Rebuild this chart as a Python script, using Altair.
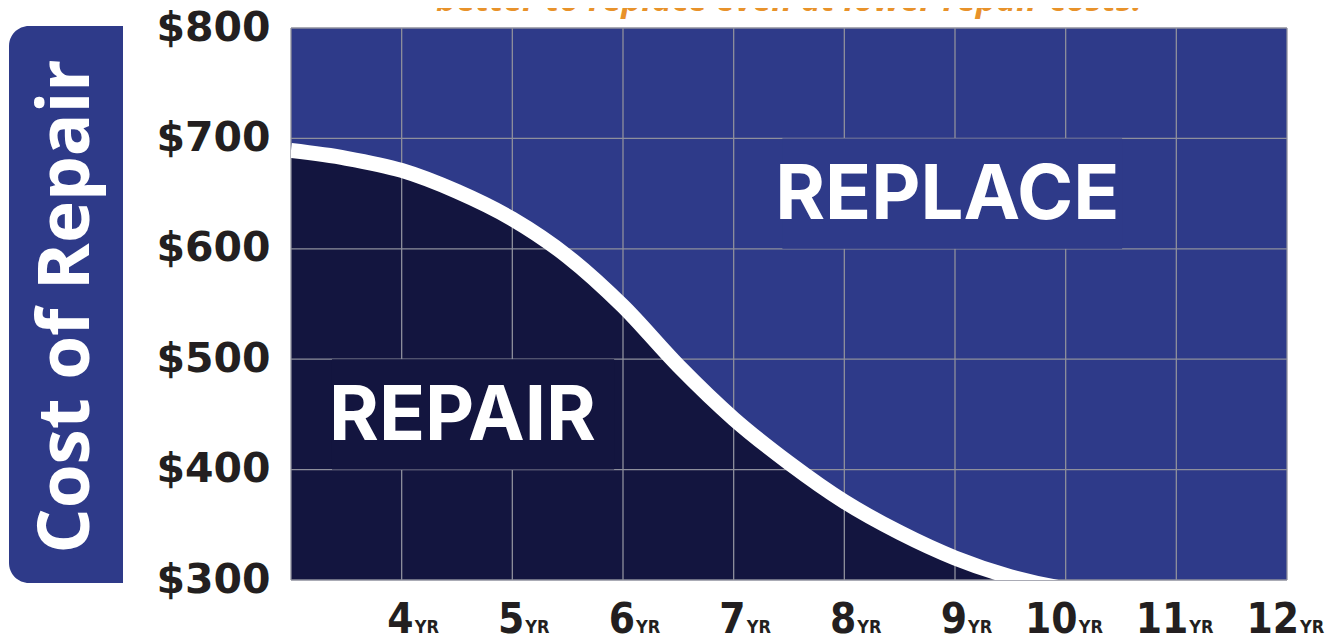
import altair as alt
import pandas as pd

# ---- data ----
curve_years = [3.0, 3.5, 4.0, 4.5, 5.0, 5.5, 6.0, 6.5, 7.0, 7.5, 8.0, 8.5, 9.0, 9.5, 10.0, 10.5]
curve_cost = [689, 682, 671, 652, 627, 593, 548, 494, 446, 406, 371, 343, 320, 303, 292, 286]

grid_years = [3, 4, 5, 6, 7, 8, 9, 10, 11, 12]
grid_costs = [300, 400, 500, 600, 700, 800]

tick_years = [4, 5, 6, 7, 8, 9, 10, 11, 12]
tick_numbers = ["4", "5", "6", "7", "8", "9", "10", "11", "12"]
tick_unit = "YR"

zone_names = ["REPAIR", "REPLACE"]
zone_x = [4.55, 8.93]
zone_y = [448, 648]
zone_box_x1 = [3.37, 7.44]
zone_box_x2 = [5.92, 10.51]
zone_box_y1 = [400, 600]
zone_box_y2 = [500, 700]

y_title = "Cost of Repair"
top_note = "better to replace even at lower repair costs."

BG = "#2e3a89"
DARK = "#13153f"
GRID = "#8e8f9c"
INK = "#231f20"

curve = pd.DataFrame({"year": curve_years, "cost": curve_cost})
vgrid = pd.DataFrame({"year": grid_years})
hgrid = pd.DataFrame({"cost": grid_costs})
ticks = pd.DataFrame({"year": tick_years, "num": tick_numbers, "unit": [tick_unit] * len(tick_years)})
zones = pd.DataFrame({"name": zone_names, "x": zone_x, "y": zone_y,
                      "x1": zone_box_x1, "x2": zone_box_x2, "y1": zone_box_y1, "y2": zone_box_y2,
                      "fill": [DARK, BG]})
one = pd.DataFrame({"t": [top_note]})

xs = alt.Scale(domain=[3, 12], nice=False, zero=False)
ys = alt.Scale(domain=[300, 800], nice=False, zero=False)

yaxis = alt.Axis(values=grid_costs, labelExpr="'$' + datum.value", grid=False, ticks=False, domain=False,
                 labelFont="DejaVu Sans", labelFontWeight="bold", labelFontSize=41, labelColor=INK,
                 labelPadding=21, title=y_title, titleColor="white", titleFont="Open Sans",
                 titleFontWeight="bold", titleFontSize=71, titleAngle=270, titleX=-203, titleY=278,
                 titleAlign="center", titleBaseline="alphabetic", zindex=2)

area = alt.Chart(curve).mark_area(color=DARK, interpolate="monotone", clip=True).encode(
    x=alt.X("year:Q", scale=xs, axis=None),
    y=alt.Y("cost:Q", scale=ys, axis=yaxis),
    y2=alt.datum(300),
)

vrules = alt.Chart(vgrid).mark_rule(color=GRID, strokeWidth=1.3).encode(
    x=alt.X("year:Q", scale=xs), y=alt.value(0), y2=alt.value(552))
hrules = alt.Chart(hgrid).mark_rule(color=GRID, strokeWidth=1.3).encode(
    y=alt.Y("cost:Q", scale=ys), x=alt.value(0), x2=alt.value(996))

boxes = alt.Chart(zones).mark_rect().encode(
    x=alt.X("x1:Q", scale=xs), x2="x2:Q",
    y=alt.Y("y1:Q", scale=ys), y2="y2:Q",
    fill=alt.Fill("fill:N", scale=None))

zone_text = alt.Chart(zones).mark_text(color="white", font="Inter", fontWeight="bold", fontSize=76,
                                       baseline="middle", align="center").encode(
    x=alt.X("x:Q", scale=xs), y=alt.Y("y:Q", scale=ys), text="name:N")

line = alt.Chart(curve).mark_line(color="white", strokeWidth=15, interpolate="monotone", clip=True).encode(
    x=alt.X("year:Q", scale=xs), y=alt.Y("cost:Q", scale=ys))

num_text = alt.Chart(ticks).mark_text(align="right", baseline="alphabetic", dx=12, color=INK,
                                      font="Liberation Sans Narrow, DejaVu Sans Condensed, sans-serif",
                                      fontWeight="bold", fontSize=42).encode(
    x=alt.X("year:Q", scale=xs), y=alt.value(605), text="num:N")
unit_text = alt.Chart(ticks).mark_text(align="left", baseline="alphabetic", dx=13, color=INK,
                                       font="Liberation Sans Narrow, DejaVu Sans Condensed, sans-serif",
                                       fontWeight="bold", fontSize=18).encode(
    x=alt.X("year:Q", scale=xs), y=alt.value(605), text="unit:N")

ybox = alt.Chart(one).mark_rect(color=BG, cornerRadiusTopLeft=20, cornerRadiusBottomLeft=20).encode(
    x=alt.value(-282), x2=alt.value(-168), y=alt.value(-2), y2=alt.value(555))

note = alt.Chart(one).mark_text(color="#e8922a", font="Open Sans", fontStyle="italic", fontWeight="bold",
                                fontSize=34, align="center", baseline="alphabetic").encode(
    x=alt.value(498), y=alt.value(-17), text="t:N")

chart = alt.layer(area, vrules, hrules, boxes, zone_text, line, num_text, unit_text, ybox, note).properties(
    width=996, height=552,
    autosize=alt.AutoSizeParams(type="none"),
    padding={"left": 283, "top": 20, "right": 45, "bottom": 62},
).configure(background="white").configure_view(fill=BG, stroke=None)

chart.save("out.html", embed_options={"renderer": "svg", "actions": False})
